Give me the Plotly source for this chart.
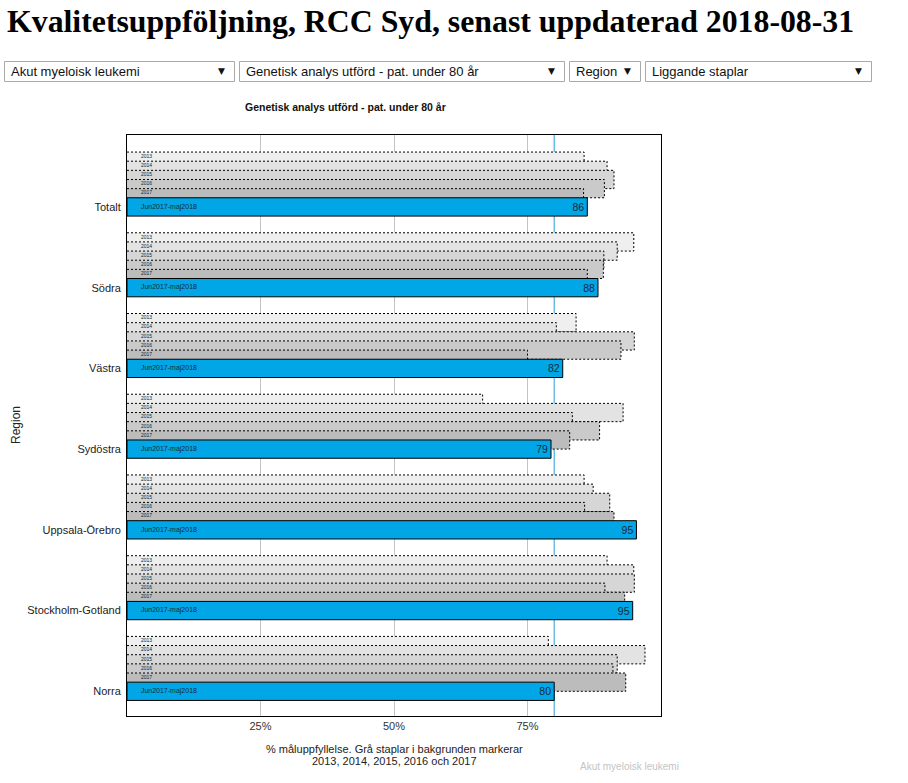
import plotly.graph_objects as go

# ---------------- data ----------------
regions = ["Totalt", "Södra", "Västra", "Sydöstra", "Uppsala-Örebro",
           "Stockholm-Gotland", "Norra"]
years = ["2013", "2014", "2015", "2016", "2017"]
v2013 = [85.6, 94.9, 84.1, 66.6, 85.6, 89.9, 78.9]
v2014 = [89.9, 91.8, 80.4, 92.9, 87.3, 94.9, 97.0]
v2015 = [91.2, 89.3, 95.0, 83.4, 90.4, 95.0, 91.8]
v2016 = [89.4, 89.2, 92.5, 88.5, 85.7, 89.5, 91.0]
v2017 = [85.5, 86.2, 75.0, 82.9, 91.2, 93.2, 93.4]
current = [86.2, 88.2, 81.6, 79.4, 95.4, 94.7, 80.0]
current_label = "Jun2017-maj2018"
target = 80
x_ticks = [25, 50, 75]
x_ticktext = ["25%", "50%", "75%"]
history = [v2013, v2014, v2015, v2016, v2017]

# ---------------- geometry / style ----------------
W, H = 908, 783
PL, PR, PT, PB = 127, 661, 135, 716
STEP = 0.1133
Y_RANGE = [6.306, -0.891]
LABEL_X = 2.6
greys = ["#efefef", "#e3e3e3", "#d6d6d6", "#cacaca", "#bcbcbc"]
BLUE = "#00a6e6"
FONT = "Liberation Sans, Arial, sans-serif"


def px(xp):
    return (xp - PL) / (PR - PL)


def py(yp):
    return (PB - yp) / (PB - PT)


ypos = list(range(len(regions)))
fig = go.Figure()

# historical bars, each on its own overlaid axis so that later bars cover earlier ones
for k, (yr, vals) in enumerate(zip(years, history)):
    yax = "y" if k == 0 else f"y{k + 1}"
    off = (k - 6) * STEP
    fig.add_trace(go.Bar(
        y=ypos, x=vals, orientation="h", offset=off, width=2 * STEP,
        marker=dict(color=greys[k], line=dict(width=0)),
        yaxis=yax, xaxis="x", hoverinfo="skip", showlegend=False))
    ox, oy = [], []
    for i, v in zip(ypos, vals):
        top = i + off
        bot = top + 2 * STEP
        ox += [0, v, v, 0, None]
        oy += [top, top, bot, bot, None]
    fig.add_trace(go.Scatter(
        x=ox, y=oy, mode="lines", yaxis=yax, xaxis="x",
        line=dict(color="black", width=1, dash="2px,2px"),
        hoverinfo="skip", showlegend=False))
    fig.add_trace(go.Scatter(
        x=[LABEL_X] * len(ypos), y=[i + off + STEP / 2 for i in ypos],
        mode="text", text=[yr] * len(ypos), textposition="middle right",
        textfont=dict(family=FONT, size=5, color="#222"),
        yaxis=yax, xaxis="x", hoverinfo="skip", showlegend=False))

# current period bar on top
fig.add_trace(go.Bar(
    y=ypos, x=current, orientation="h", offset=-STEP, width=2 * STEP,
    marker=dict(color=BLUE, line=dict(color="black", width=1)),
    text=[f"{v:.0f}" for v in current], textposition="inside",
    insidetextanchor="end", textangle=0,
    textfont=dict(family=FONT, size=10.5, color="#1a2a3a"),
    yaxis="y6", xaxis="x", hoverinfo="skip", showlegend=False))
fig.add_trace(go.Scatter(
    x=[LABEL_X] * len(ypos), y=ypos, mode="text",
    text=[current_label] * len(ypos), textposition="middle right",
    textfont=dict(family=FONT, size=7, color="#1a2a3a"),
    yaxis="y6", xaxis="x", hoverinfo="skip", showlegend=False))

# ---------------- layout ----------------
ylayout = dict(range=Y_RANGE, fixedrange=True)
layout = dict(
    width=W, height=H,
    margin=dict(l=PL, r=W - PR, t=PT, b=H - PB),
    paper_bgcolor="white", plot_bgcolor="white",
    barmode="overlay", showlegend=False,
    font=dict(family=FONT, size=11, color="#222"),
    xaxis=dict(range=[0, 100], tickvals=x_ticks, ticktext=x_ticktext,
               showgrid=True, gridcolor="#c4c4c4", gridwidth=1,
               zeroline=False, showline=True, mirror=True,
               linecolor="black", linewidth=1, ticks="",
               tickfont=dict(size=11, color="#333"), fixedrange=True),
    yaxis=dict(tickvals=ypos, ticktext=regions, showgrid=False,
               zeroline=False, showline=True, mirror=True,
               linecolor="black", linewidth=1, ticks="",
               ticklabelstandoff=3,
               tickfont=dict(size=11, color="#222"), **ylayout),
)
for k in range(2, 7):
    layout[f"yaxis{k}"] = dict(overlaying="y", visible=False, **ylayout)
fig.update_layout(**layout)

# target line
fig.add_shape(type="line", xref="x", yref="paper", x0=target, x1=target,
              y0=0, y1=1, layer="below", line=dict(color="#2a9fd6", width=1))

# dropdown-like boxes
boxes = [(4.5, 234.5, "Akut myeloisk leukemi"),
         (239.5, 564.5, "Genetisk analys utförd - pat. under 80 år"),
         (569.5, 640.5, "Region"),
         (645.5, 871.5, "Liggande staplar")]
for x0, x1, lab in boxes:
    fig.add_shape(type="rect", xref="paper", yref="paper",
                  x0=px(x0), x1=px(x1), y0=py(81.5), y1=py(61.5),
                  line=dict(color="#a9a9a9", width=1), fillcolor="white",
                  layer="above")
    fig.add_annotation(xref="paper", yref="paper", x=px(x0 + 4), y=py(71.5),
                       xanchor="left", yanchor="middle", showarrow=False,
                       text=lab, font=dict(family=FONT, size=13, color="#111"))
    fig.add_annotation(xref="paper", yref="paper", x=px(x1 - 8), y=py(71.5),
                       xanchor="right", yanchor="middle", showarrow=False,
                       text="▼", font=dict(family="DejaVu Sans", size=9, color="#111"))

annots = [
    dict(x=px(5), y=py(22), xanchor="left", yanchor="middle",
         text="Kvalitetsuppföljning, RCC Syd, senast uppdaterad 2018-08-31",
         font=dict(family="Liberation Serif, Times New Roman, serif", size=31.8,
                   color="black", weight="bold")),
    dict(x=px(345), y=py(107), xanchor="center", yanchor="middle",
         text="<b>Genetisk analys utförd - pat. under 80 år</b>",
         font=dict(family=FONT, size=10.5, color="#111")),
    dict(x=px(16), y=py(425), xanchor="center", yanchor="middle", textangle=-90,
         text="Region", font=dict(family=FONT, size=12, color="#222")),
    dict(x=px(394), y=py(749), xanchor="center", yanchor="middle",
         text="% måluppfyllelse. Grå staplar i bakgrunden markerar",
         font=dict(family=FONT, size=11, color="#222")),
    dict(x=px(394), y=py(761), xanchor="center", yanchor="middle",
         text="2013, 2014, 2015, 2016 och 2017",
         font=dict(family=FONT, size=11, color="#222")),
    dict(x=px(629), y=py(767), xanchor="center", yanchor="middle",
         text="Akut myeloisk leukemi",
         font=dict(family=FONT, size=10, color="#c4c4c4")),
]
for a in annots:
    fig.add_annotation(xref="paper", yref="paper", showarrow=False, **a)

fig.write_html("out.html", config={"displayModeBar": False})
